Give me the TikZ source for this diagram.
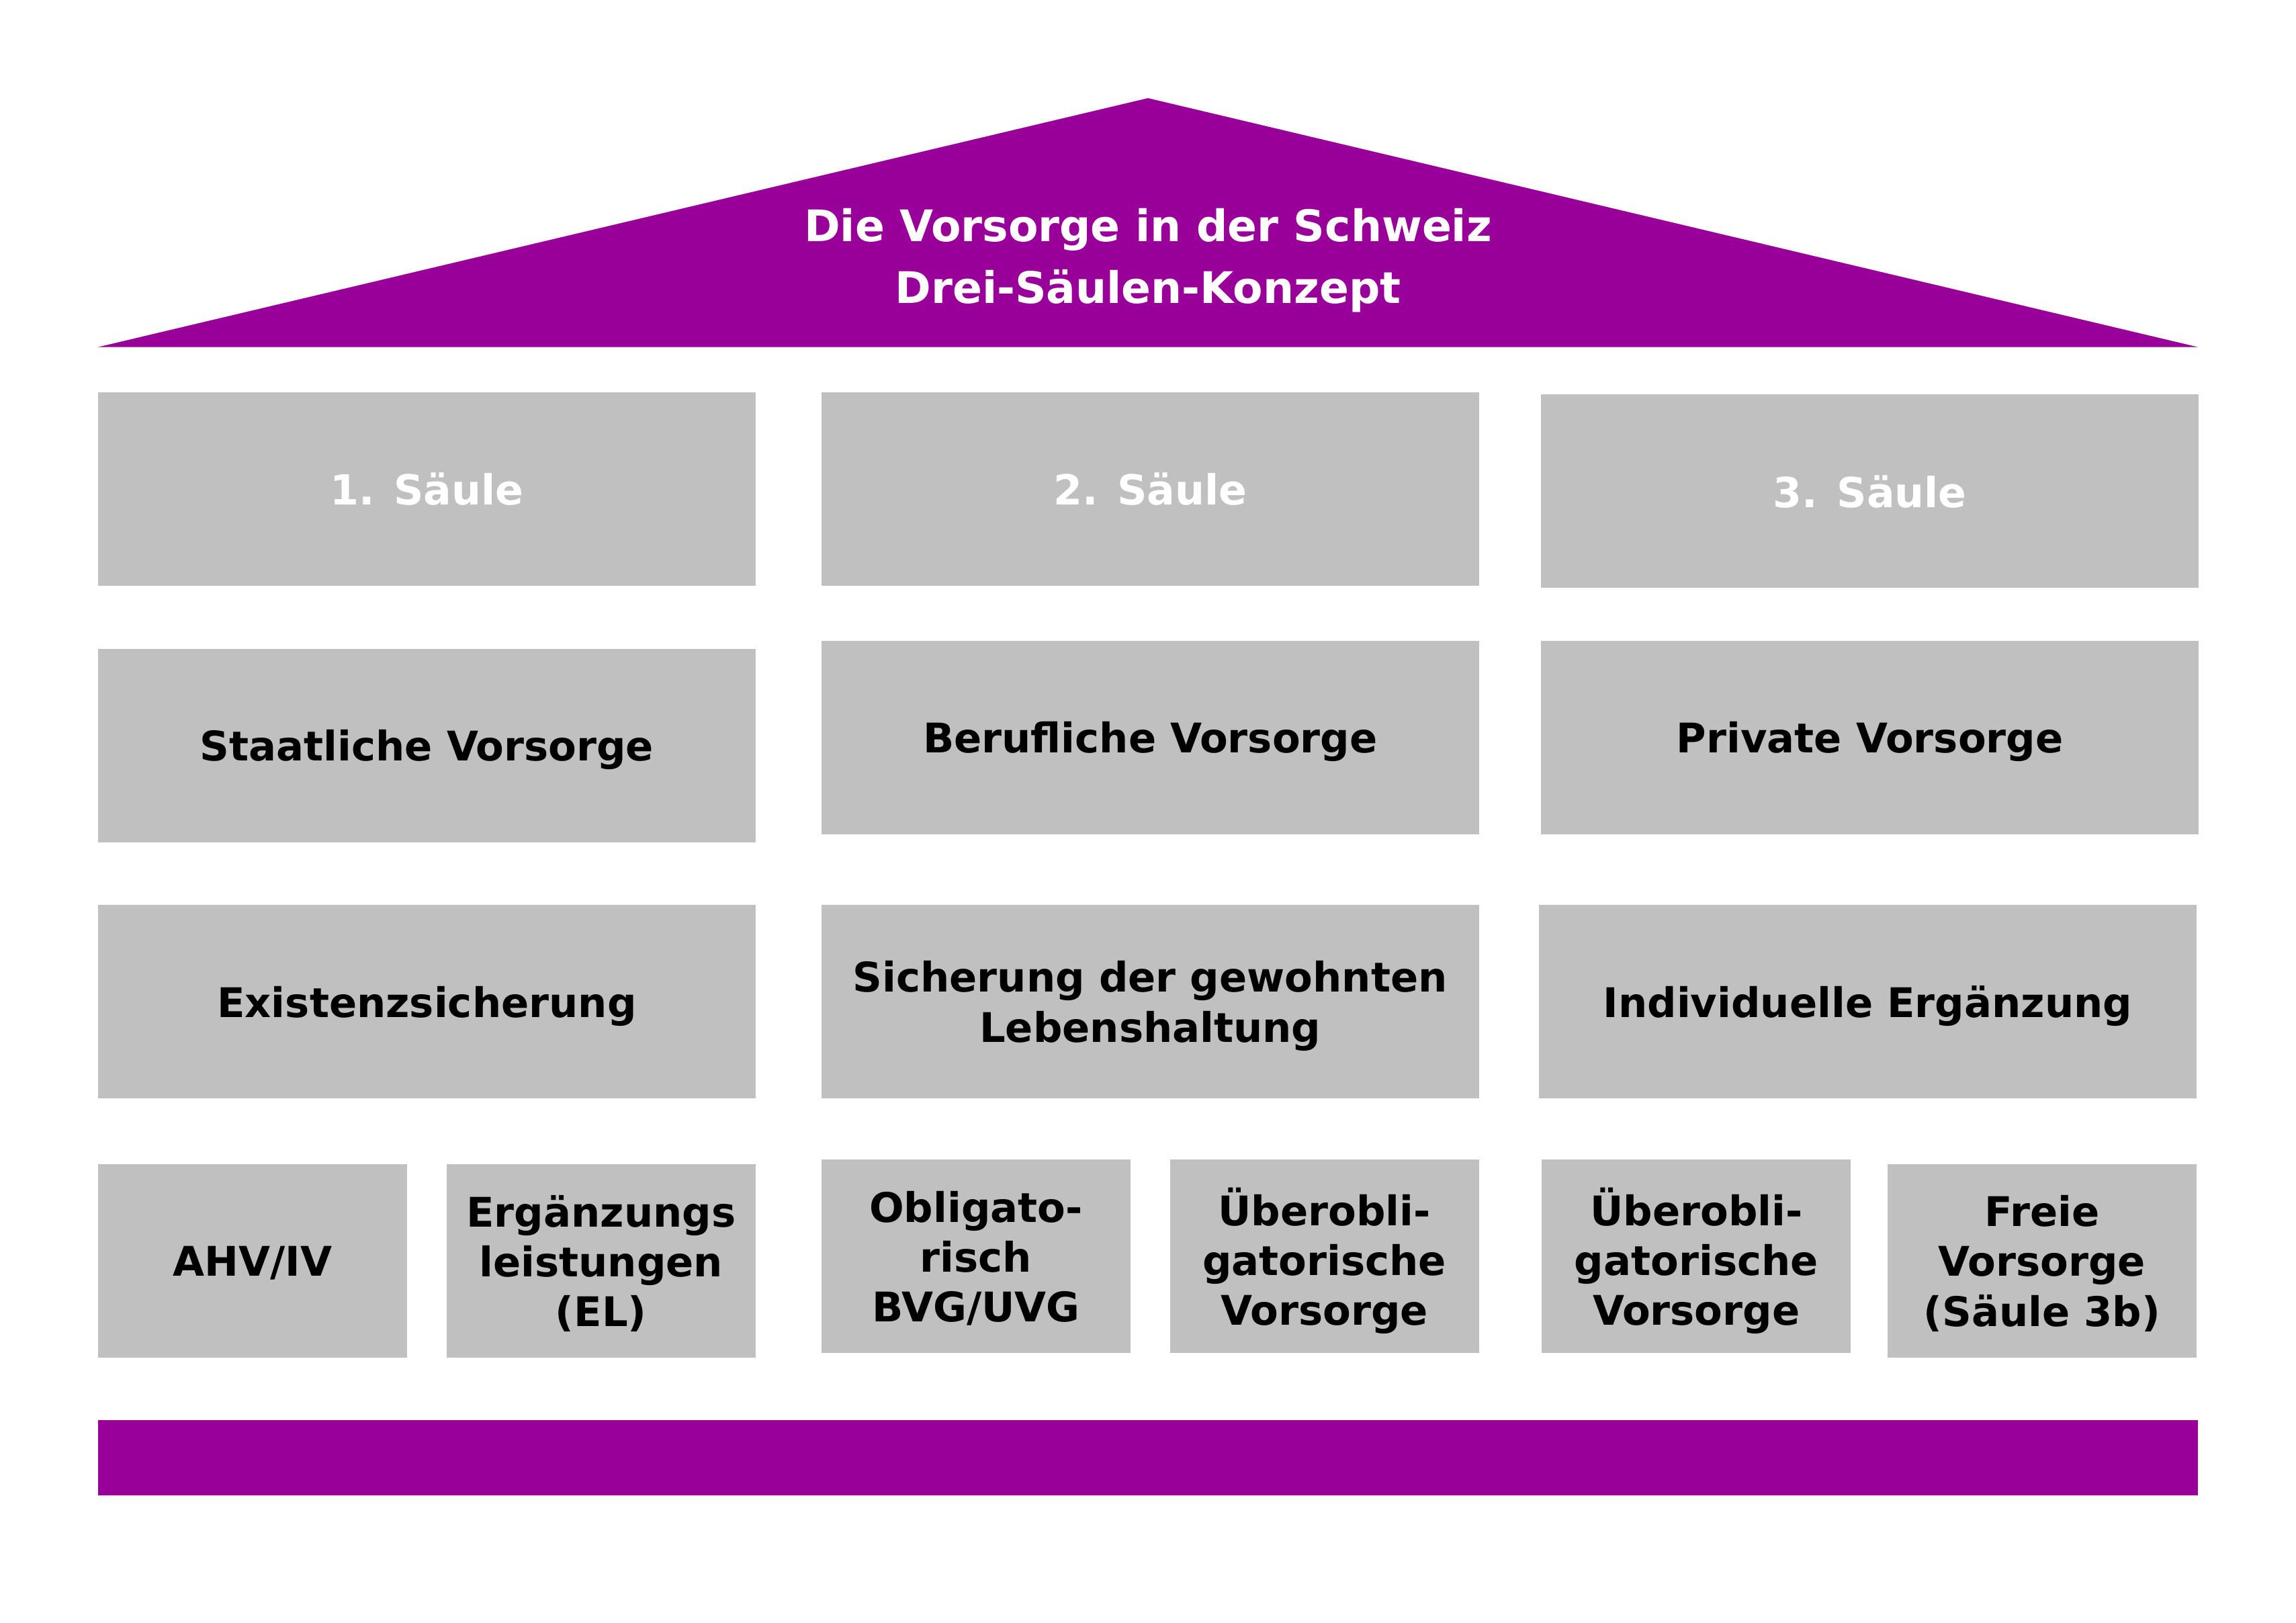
\documentclass[tikz,border=0pt]{standalone}
\usepackage{fontspec}
\setmainfont{DejaVu Sans}
\definecolor{lila}{HTML}{990099}
\definecolor{saeulengrau}{HTML}{C0C0C0}
\tikzset{
  feld/.style={fill=saeulengrau, inner sep=0pt, align=center, text depth=0pt,
    minimum width=4.49cm, minimum height=1.32cm,
    font=\fontsize{7.93}{9.7}\selectfont\bfseries},
  kopf/.style={feld, text=white, font=\fontsize{8.05}{10}\selectfont\bfseries},
  teil/.style={feld, minimum width=2.11cm}
}
\begin{document}
\begin{tikzpicture}[x=0.01cm, y=-0.01cm]
\useasboundingbox (0,0) rectangle (1568,1108);
% Dach
\fill[lila] (67,237) -- (784,67) -- (1501,237) -- cycle;
\node[text=white, align=center, font=\fontsize{8.45}{12}\selectfont\bfseries] (titel) at (784,178)
  {Die Vorsorge in der Schweiz\\Drei-Säulen-Konzept};

% Säulen
\node[kopf] (s1) at (291.5,334) {1. Säule};
\node[kopf] (s2) at (785.5,334) {2. Säule};
\node[kopf] (s3) at (1277,335.5) {3. Säule};

\node[feld] (art1) at (291.5,509) {Staatliche Vorsorge};
\node[feld] (art2) at (785.5,503.5) {Berufliche Vorsorge};
\node[feld] (art3) at (1277,503.5) {Private Vorsorge};

\node[feld] (ziel1) at (291.5,684) {Existenzsicherung};
\node[feld] (ziel2) at (785.5,684) {Sicherung der gewohnten\\Lebenshaltung};
\node[feld] (ziel3) at (1275.5,684) {Individuelle Ergänzung};

\node[teil] (ahv) at (172.5,861) {AHV/IV};
\node[teil] (el) at (410.5,861) {Ergänzungs\\leistungen\\(EL)};
\node[teil] (bvg) at (666.5,858) {Obligato-\\risch\\BVG/UVG};
\node[teil] (ueb2) at (904.5,858) {Überobli-\\gatorische\\Vorsorge};
\node[teil] (ueb3) at (1158.5,858) {Überobli-\\gatorische\\Vorsorge};
\node[teil] (frei) at (1394.5,861) {Freie\\Vorsorge\\(Säule 3b)};

% Fundament
\fill[lila] (67,970) rectangle (1501,1021);
\end{tikzpicture}
\end{document}
